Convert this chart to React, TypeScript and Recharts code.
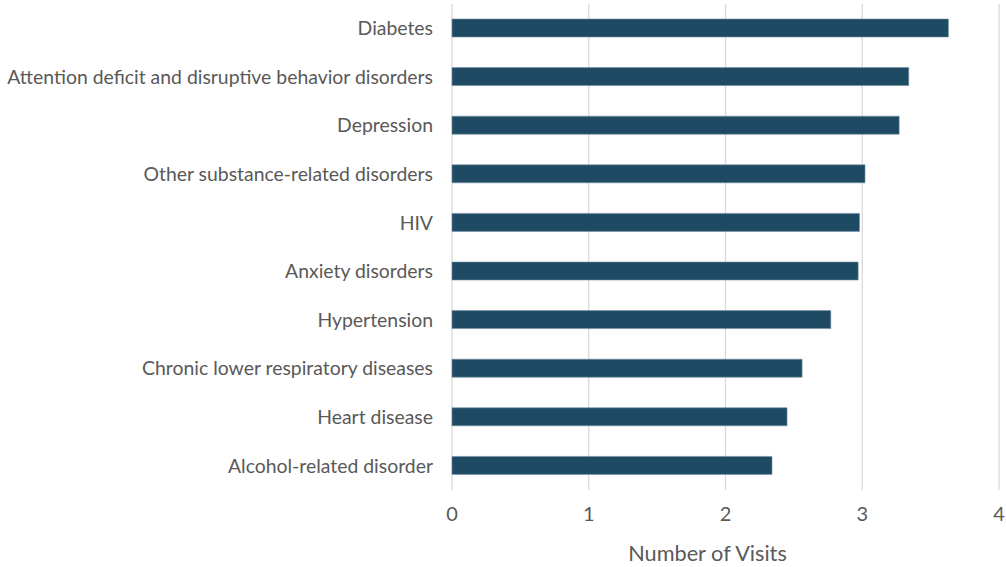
import { BarChart, Bar, XAxis, YAxis, CartesianGrid } from "recharts";

const conditions = [
  "Diabetes",
  "Attention deficit and disruptive behavior disorders",
  "Depression",
  "Other substance-related disorders",
  "HIV",
  "Anxiety disorders",
  "Hypertension",
  "Chronic lower respiratory diseases",
  "Heart disease",
  "Alcohol-related disorder",
];

const visits = [3.63, 3.34, 3.27, 3.02, 2.98, 2.97, 2.77, 2.56, 2.45, 2.34];

const xTicks = [0, 1, 2, 3, 4];

const data = conditions.map((name, i) => ({ name, visits: visits[i] }));

const FONT = "Lato, 'Open Sans', sans-serif";
const TEXT = "#595959";

export default function App() {
  return (
    <div style={{ width: 1006, height: 567, background: "#fff" }}>
      <style>{`body { margin: 0; overflow: hidden; }`}</style>
      <BarChart
        layout="vertical"
        width={1006}
        height={567}
        data={data}
        margin={{ top: 4, right: 7, left: 0, bottom: 0 }}
        barSize={18}
      >
        <CartesianGrid horizontal={false} stroke="#d9d9d9" strokeWidth={1.3} />
        <XAxis
          type="number"
          domain={[0, 4]}
          ticks={xTicks}
          axisLine={false}
          tickLine={false}
          tickSize={0}
          tickMargin={17}
          height={77}
          tick={{ fill: TEXT, fontSize: 20, fontFamily: FONT }}
          label={{
            value: "Number of Visits",
            position: "insideBottom",
            offset: 6,
            dx: -18,
            fill: TEXT,
            fontSize: 21.7,
            fontFamily: FONT,
          }}
        />
        <YAxis
          type="category"
          dataKey="name"
          width={452}
          axisLine={false}
          tickLine={false}
          tickSize={0}
          tickMargin={19}
          interval={0}
          tick={{ fill: TEXT, fontSize: 19.4, fontFamily: FONT }}
        />
        <Bar
          dataKey="visits"
          fill="#1f4a64"
          stroke="#6f8ea2"
          strokeWidth={0.6}
          isAnimationActive={false}
        />
      </BarChart>
    </div>
  );
}
